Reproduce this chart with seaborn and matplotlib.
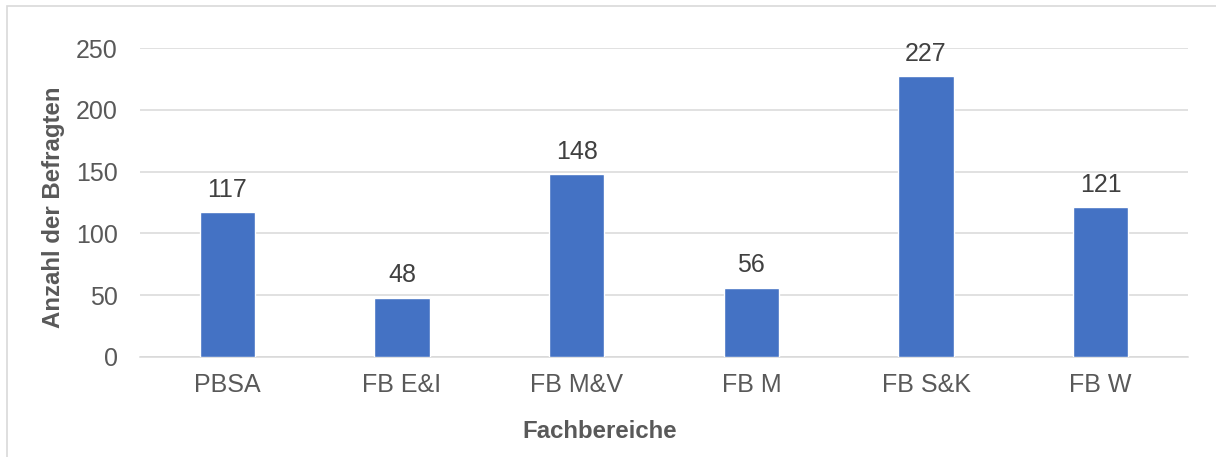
import matplotlib
matplotlib.use("Agg")
import matplotlib.pyplot as plt
import seaborn as sns
import pandas as pd
from matplotlib.patches import Rectangle

categories = ["PBSA", "FB E&I", "FB M&V", "FB M", "FB S&K", "FB W"]
values = [117, 48, 148, 56, 227, 121]
yticks = [0, 50, 100, 150, 200, 250]

sns.set_theme(style="white")
plt.rcParams['font.family'] = ['Liberation Sans', 'DejaVu Sans']

df = pd.DataFrame({"Fachbereich": categories, "Anzahl": values})

fig = plt.figure(figsize=(12.16, 4.57), dpi=100)
ax = fig.add_axes([140/1216, 100/457, (1188-140)/1216, 309/457])

sns.barplot(data=df, x="Fachbereich", y="Anzahl", color="#4472C4",
            width=0.315, saturation=1, ax=ax, zorder=3)

ax.set_ylim(0, 250)
ax.set_yticks(yticks)
ax.set_xlim(-0.5, len(categories) - 0.5)
ax.yaxis.grid(True, color="#D9D9D9", linewidth=1.1, zorder=0)
ax.set_axisbelow(True)
for s in ["top", "right", "left"]:
    ax.spines[s].set_visible(False)
ax.spines["bottom"].set_color("#D9D9D9")
ax.spines["bottom"].set_linewidth(1.1)
ax.tick_params(axis="both", length=0, labelsize=18, colors="#595959")
ax.tick_params(axis="x", pad=11.5)
ax.tick_params(axis="y", pad=16)

ax.set_xlabel("Fachbereiche", fontsize=17.3, fontweight="bold", color="#595959")
ax.set_ylabel("Anzahl der Befragten", fontsize=17.3, fontweight="bold", color="#595959")
ax.xaxis.set_label_coords(600/1216, (457-420)/457, transform=fig.transFigure)
ax.yaxis.set_label_coords(65/1216, (457-207)/457, transform=fig.transFigure)

for c in ax.containers:
    ax.bar_label(c, labels=[str(v) for v in values], padding=7.5, fontsize=18, color="#404040")

fig.patches.append(Rectangle((7/1216, -0.1), 1.2, 1 - 6/457 + 0.1, transform=fig.transFigure,
                             fill=False, edgecolor="#D9D9D9", linewidth=1.2))

fig.savefig("out.png", dpi=100)
